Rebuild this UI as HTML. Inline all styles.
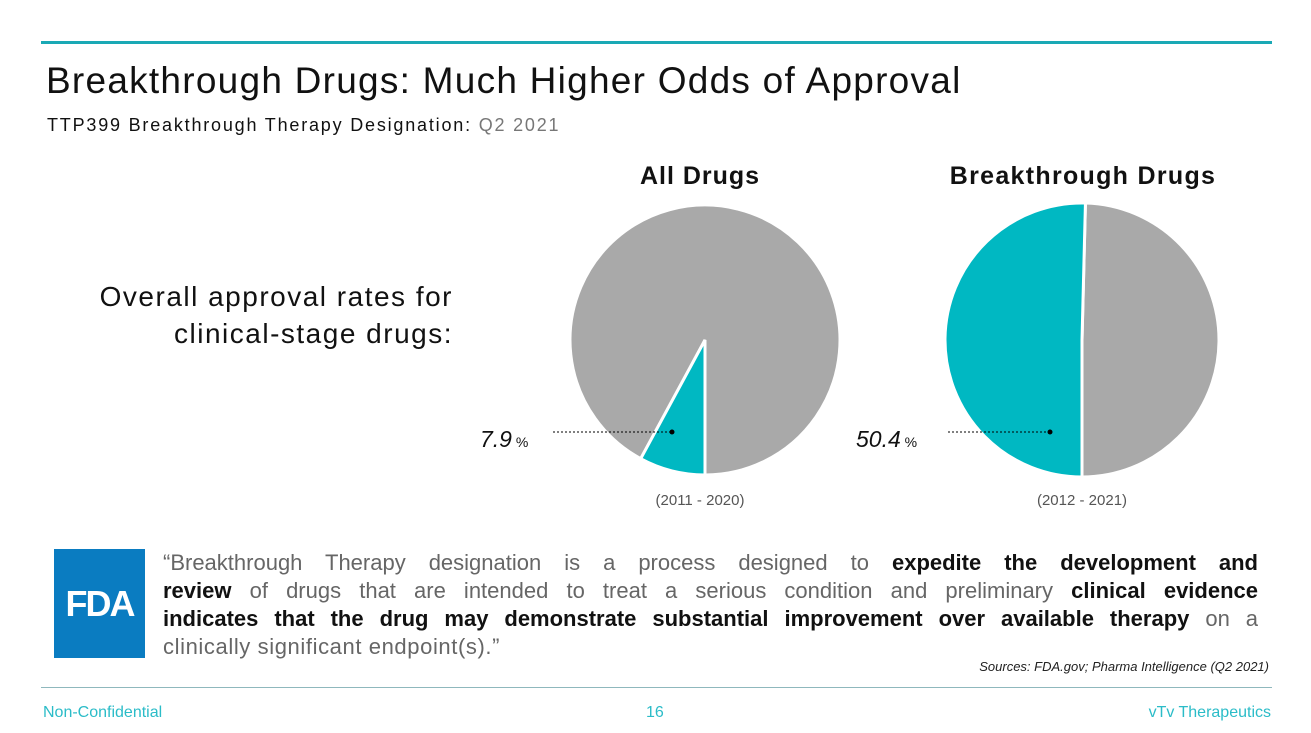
<!DOCTYPE html>
<html><head><meta charset="utf-8"><style>
body{margin:0;width:1311px;height:733px;background:#fff;position:relative;overflow:hidden;font-family:"Liberation Sans",sans-serif}
.a{position:absolute;white-space:nowrap}
.q{height:28px;text-align:justify;text-align-last:justify;white-space:nowrap}
</style></head><body>
<div class="a" style="left:41px;top:41px;width:1231px;height:3px;background:#1aa9b5"></div>
<div class="a" style="left:46px;top:60px;font-size:37px;letter-spacing:1.25px;color:#111">Breakthrough Drugs: Much Higher Odds of Approval</div>
<div class="a" style="left:47px;top:115px;font-size:18px;letter-spacing:1.8px;color:#111">TTP399 Breakthrough Therapy Designation: <span style="color:#777">Q2 2021</span></div>
<div class="a" style="right:858px;top:278px;font-size:28px;letter-spacing:1.5px;color:#111;text-align:right;line-height:37px">Overall approval rates for<br>clinical-stage drugs:</div>
<div class="a" style="left:550px;top:162px;width:300px;text-align:center;font-size:25px;letter-spacing:1px;font-weight:bold;color:#111">All Drugs</div>
<div class="a" style="left:933px;top:162px;width:300px;text-align:center;font-size:25px;letter-spacing:1.3px;font-weight:bold;color:#111">Breakthrough Drugs</div>
<svg class="a" style="left:0;top:0" width="1311" height="733"><g id="g"></g></svg>
<div class="a" style="left:480px;top:426px;font-size:23px;font-style:italic;color:#111">7.9<span style="font-size:14px;font-style:normal"> %</span></div>
<div class="a" style="left:856px;top:426px;font-size:23px;font-style:italic;color:#111">50.4<span style="font-size:14px;font-style:normal"> %</span></div>
<div class="a" style="left:630px;top:492px;width:140px;text-align:center;font-size:15px;color:#555">(2011 - 2020)</div>
<div class="a" style="left:1012px;top:492px;width:140px;text-align:center;font-size:15px;color:#555">(2012 - 2021)</div>
<div class="a" style="left:54px;top:549px;width:91px;height:109px;background:#0a7cc1;color:#fff;font-weight:bold;font-size:36px;line-height:109px;text-align:center;letter-spacing:-2px">FDA</div>
<div class="a" style="left:163px;top:549px;width:1095px;font-size:22px;line-height:28px;color:#666">
<div class="q">“Breakthrough Therapy designation is a process designed to <b style="color:#111">expedite the development and</b></div>
<div class="q"><b style="color:#111">review</b> of drugs that are intended to treat a serious condition and preliminary <b style="color:#111">clinical evidence</b></div>
<div class="q"><b style="color:#111">indicates that the drug may demonstrate substantial improvement over available therapy</b> on a</div>
<div style="height:28px;letter-spacing:0.6px">clinically significant endpoint(s).”</div>
</div>
<div class="a" style="right:42px;top:659px;font-size:13px;font-style:italic;color:#222">Sources: FDA.gov; Pharma Intelligence (Q2 2021)</div>
<div class="a" style="left:41px;top:687px;width:1231px;height:1px;background:#8fb8bd"></div>
<div class="a" style="left:43px;top:704px;font-size:16px;color:#2bbcc8">Non-Confidential</div>
<div class="a" style="left:646px;top:704px;font-size:16px;color:#2bbcc8">16</div>
<div class="a" style="right:40px;top:704px;font-size:16px;color:#2bbcc8">vTv Therapeutics</div>
<script>
const pieNames=["all-drugs","breakthrough-drugs"];
const approvalRates=[7.9,50.4];
const g=document.getElementById('g'),NS='http://www.w3.org/2000/svg';
const geo=[{cx:705,cy:340,r:135,dot:[672,432],lx:553},{cx:1082,cy:340,r:137,dot:[1050,432],lx:948}];
function pt(c,f){const a=f*2*Math.PI;return [c.cx-c.r*Math.sin(a),c.cy+c.r*Math.cos(a)];}
approvalRates.forEach((v,i)=>{const c=geo[i],f=v/100;const p0=pt(c,0),p1=pt(c,f),lg=f>0.5?1:0;
 const rest=document.createElementNS(NS,'path');
 rest.setAttribute('d',`M${c.cx},${c.cy}L${p1[0]},${p1[1]}A${c.r},${c.r} 0 ${1-lg} 1 ${p0[0]},${p0[1]}Z`);
 rest.setAttribute('fill','#a9a9a9');rest.setAttribute('stroke','#fff');rest.setAttribute('stroke-width','3');
 
 
 g.appendChild(rest);
 const s=document.createElementNS(NS,'path');
 s.setAttribute('d',`M${c.cx},${c.cy}L${p0[0]},${p0[1]}A${c.r},${c.r} 0 ${lg} 1 ${p1[0]},${p1[1]}Z`);
 s.setAttribute('fill','#00b8c2');s.setAttribute('stroke','#fff');s.setAttribute('stroke-width','3');
 
 
 g.appendChild(s);
 const l=document.createElementNS(NS,'line');
 l.setAttribute('x1',c.lx);l.setAttribute('x2',c.dot[0]);l.setAttribute('y1',c.dot[1]);l.setAttribute('y2',c.dot[1]);
 l.setAttribute('stroke','#000');l.setAttribute('stroke-dasharray','2,2');
 
 
 g.appendChild(l);
 const d=document.createElementNS(NS,'circle');
 d.setAttribute('cx',c.dot[0]);d.setAttribute('cy',c.dot[1]);d.setAttribute('r',2.5);
 
 
 g.appendChild(d);
});
</script>
</body></html>
